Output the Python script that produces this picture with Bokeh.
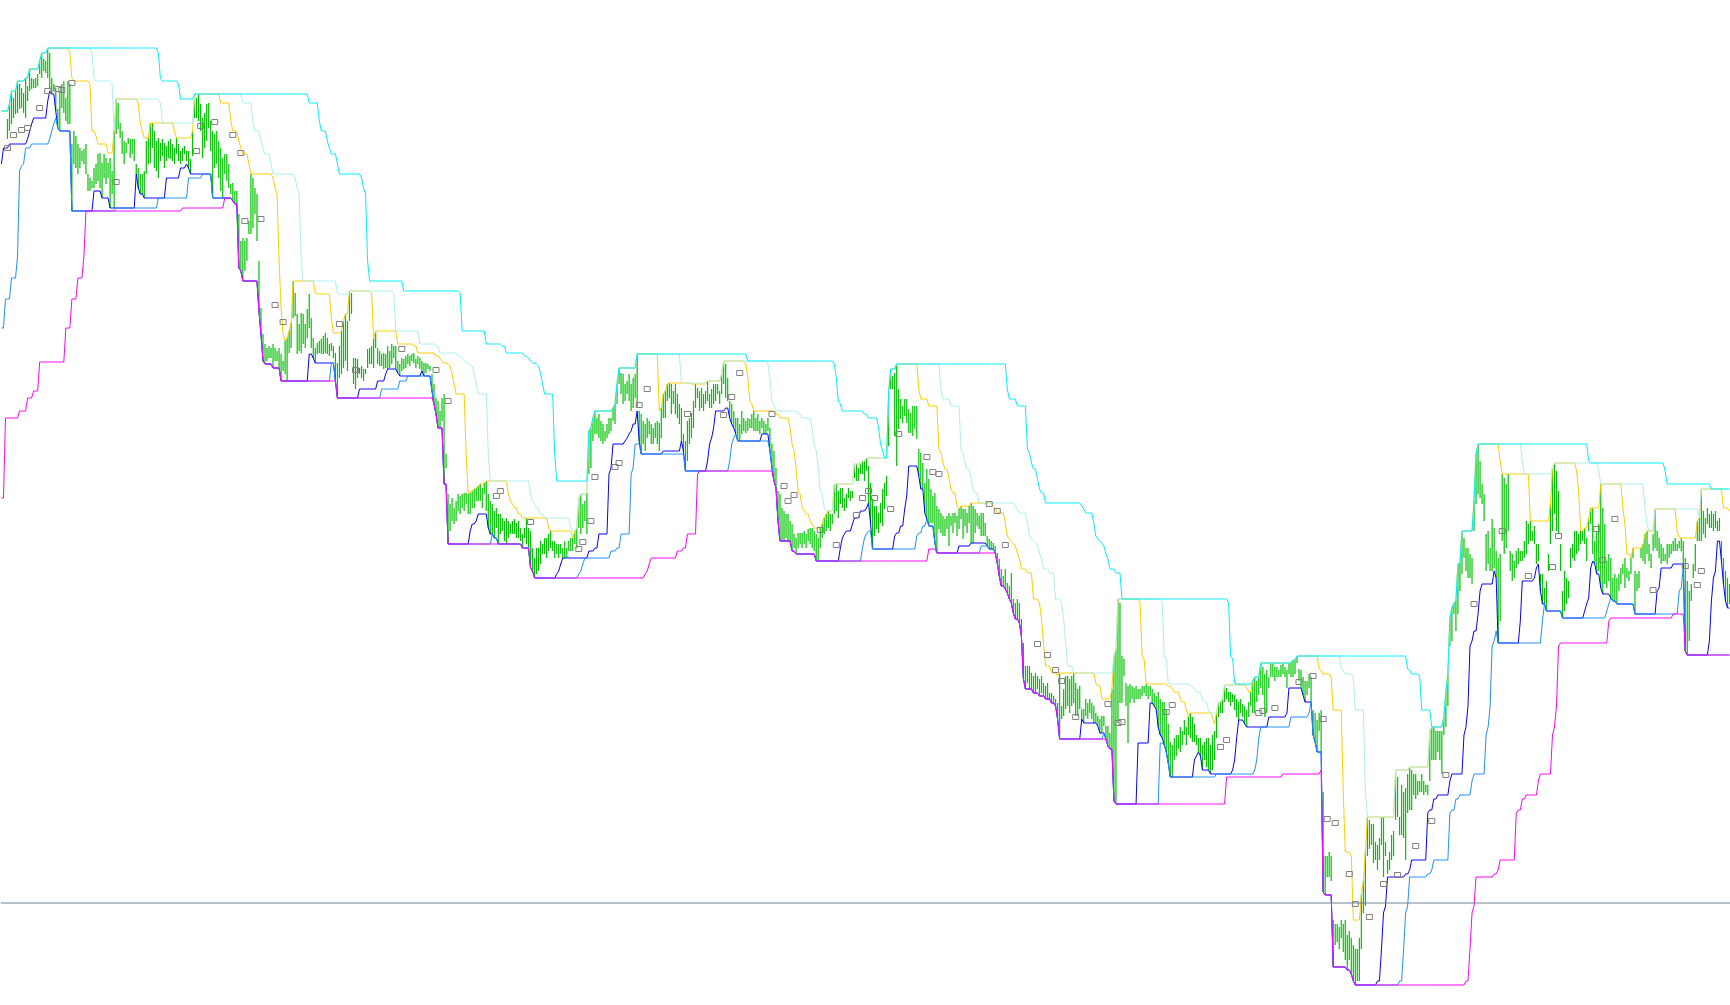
import numpy as np
import pandas as pd
from bokeh.plotting import figure
from bokeh.models import Range1d, Span
from bokeh.embed import file_html
from bokeh.resources import INLINE

# ---------------- data (prices, arbitrary price units) ----------------
high_1 = [882, 897, 910, 903, 910, 920, 917, 913, 908, 923,
          915, 932, 923, 922, 923, 927, 940, 948, 942, 940,
          953, 948, 923, 917, 913, 892, 910, 917, 920, 903,
          920, 917, 857, 870, 865, 857, 853, 850, 852, 857,
          827, 823, 820, 833, 837, 847, 848, 838, 847, 843,
          838, 843, 830, 870, 902, 898, 878, 870, 860, 858,
          863, 862, 862, 862, 837, 833, 827, 827, 830, 860,
          863, 878, 878, 870, 860, 863, 858, 862, 858, 855,
          860, 862, 857, 853, 863, 857, 850, 853, 855, 850,
          850, 842, 870, 907, 903, 907, 897, 883, 888, 897,
          898, 880, 870, 867, 870, 860, 853, 843, 847, 847,
          837, 817, 818, 810, 810, 787, 760, 763, 760, 763,
          780, 827, 823, 813, 807, 740, 693, 667, 657, 653,
          655, 653, 657, 653, 650, 653, 647, 640, 660, 663]
low_1 = [862, 870, 877, 883, 887, 888, 892, 893, 888, 883,
         900, 910, 912, 913, 913, 915, 927, 923, 930, 928,
         923, 912, 907, 910, 890, 873, 870, 893, 888, 880,
         877, 877, 790, 837, 833, 827, 833, 840, 837, 827,
         810, 810, 813, 813, 817, 820, 813, 803, 823, 817,
         823, 793, 807, 793, 867, 872, 863, 847, 837, 848,
         857, 843, 847, 840, 827, 813, 807, 807, 803, 827,
         837, 838, 853, 833, 830, 823, 840, 845, 833, 840,
         843, 842, 840, 837, 847, 840, 837, 840, 847, 840,
         833, 827, 845, 883, 883, 880, 870, 843, 853, 860,
         873, 850, 803, 833, 837, 823, 810, 803, 827, 820,
         813, 807, 800, 797, 797, 733, 730, 720, 730, 740,
         767, 767, 773, 787, 760, 690, 667, 640, 637, 640,
         643, 643, 633, 640, 640, 633, 620, 630, 627, 620]

high_2 = [670, 678, 720, 708, 687, 677, 688, 687, 677, 692,
          707, 683, 663, 653, 658, 660, 662, 665, 668, 663,
          657, 658, 655, 648, 638, 655, 670, 680, 687, 680,
          710, 708, 643, 643, 642, 633, 635, 632, 632, 652,
          653, 655, 662, 670, 653, 650, 647, 648, 647, 655,
          650, 657, 655, 655, 640, 637, 643, 642, 645, 647,
          645, 647, 648, 642, 645, 643, 640, 638, 638, 637,
          635, 627, 617, 603, 600, 590, 603, 607, 547, 507,
          497, 503, 493, 500, 507, 505, 507, 508, 508, 507,
          508, 510, 512, 513, 515, 517, 513, 518, 520, 507,
          500, 497, 490, 493, 487, 487, 483, 480, 483, 480,
          477, 480, 482, 478, 480, 473, 467, 473, 483, 473,
          470, 453, 443, 453, 453, 460, 457, 463, 463, 467,
          470, 460, 460, 457, 457, 457, 453, 460, 453, 460,
          463, 463, 470, 473]
low_2 = [648, 653, 683, 685, 647, 650, 648, 657, 653, 663,
         673, 653, 643, 638, 647, 648, 647, 647, 648, 647,
         645, 650, 643, 620, 603, 623, 627, 633, 640, 630,
         680, 687, 617, 612, 623, 627, 623, 620, 627, 633,
         637, 637, 633, 653, 637, 635, 635, 632, 633, 632,
         633, 637, 643, 632, 628, 625, 630, 632, 633, 637,
         635, 640, 638, 633, 637, 632, 630, 625, 628, 632,
         630, 610, 597, 587, 573, 573, 580, 517, 533, 457,
         470, 480, 477, 480, 490, 487, 493, 490, 497, 487,
         487, 493, 493, 500, 500, 500, 493, 507, 490, 473,
         467, 467, 463, 473, 457, 467, 470, 460, 457, 463,
         467, 467, 467, 463, 463, 460, 453, 463, 457, 453,
         433, 430, 423, 427, 430, 437, 447, 447, 443, 450,
         453, 450, 443, 447, 443, 447, 443, 443, 443, 450,
         450, 450, 457, 453]

high_3 = [503, 507, 497, 500, 508, 570, 573, 583, 590, 583,
          587, 580, 577, 570, 577, 583, 583, 593, 597, 617,
          633, 628, 627, 617, 620, 627, 617, 623, 627, 647,
          590, 587, 580, 577, 583, 580, 577, 573, 578, 580,
          578, 593, 607, 610, 617, 618, 617, 610, 617, 607,
          597, 593, 567, 560, 580, 583, 588, 600, 617, 613,
          610, 613, 607, 610, 620, 607, 612, 617, 617, 617,
          610, 627, 640, 637, 623, 600, 597, 590, 583, 583,
          577, 590, 583, 580, 583, 582, 587, 590, 583, 587,
          580, 583, 580, 577, 583, 573, 557, 550, 533, 510,
          507, 493, 490, 487, 487, 480, 477, 467, 463, 468,
          468, 468, 470, 467, 472, 473, 473, 470, 467, 463,
          473, 477, 483, 487, 490, 487, 487, 517, 517, 510,
          513, 513, 503, 507, 513, 510, 510, 537, 537, 533,
          537, 540, 540, 543]
low_3 = [473, 467, 473, 480, 467, 527, 533, 560, 567, 567,
         563, 560, 557, 560, 563, 567, 570, 580, 577, 597,
         617, 607, 597, 600, 607, 600, 590, 593, 603, 593,
         560, 547, 557, 550, 563, 567, 557, 557, 563, 557,
         550, 563, 583, 583, 600, 603, 587, 597, 587, 583,
         577, 560, 550, 530, 540, 557, 563, 573, 593, 603,
         590, 593, 590, 597, 600, 593, 593, 597, 600, 607,
         597, 607, 617, 603, 600, 583, 577, 573, 567, 560,
         560, 567, 570, 568, 570, 573, 573, 570, 570, 570,
         567, 573, 567, 567, 570, 550, 533, 520, 513, 480,
         460, 460, 460, 463, 460, 460, 450, 453, 447, 453,
         457, 453, 457, 453, 460, 457, 453, 450, 440, 440,
         453, 463, 467, 470, 473, 470, 477, 487, 490, 483,
         497, 493, 490, 493, 503, 500, 503, 523, 520, 520,
         527, 527, 520, 530]

high_4 = [535, 518, 502, 495, 495, 488, 498, 512, 518, 525,
          608, 632, 625, 628, 637, 612, 602, 595, 602, 602,
          592, 588, 595, 595, 595, 552, 548, 538, 518, 532,
          522, 512, 505, 508, 495, 492, 488, 485, 482, 485,
          488, 485, 488, 488, 485, 492, 495, 492, 492, 488,
          495, 498, 495, 492, 488, 485, 488, 488, 478, 465,
          462, 460, 458, 455, 448, 442, 432, 425, 432, 418,
          415, 428, 402, 398, 402, 398, 382, 358, 335, 335,
          335, 328, 325, 328, 325, 322, 325, 318, 315, 318,
          308, 308, 305, 302, 298, 328, 295, 312, 325, 325,
          322, 325, 328, 318, 312, 315, 292, 292, 302, 298,
          302, 298, 295, 288, 285, 282, 285, 285, 275, 275,
          268, 312, 345, 352, 402, 398, 345, 342, 318, 315,
          317, 315, 313, 315, 312, 312, 315, 315, 317, 315,
          315, 312, 308, 305]
low_4 = [498, 478, 452, 465, 472, 468, 478, 475, 492, 505,
         555, 612, 612, 565, 535, 572, 582, 578, 585, 578,
         568, 568, 565, 572, 562, 525, 512, 512, 488, 482,
         475, 478, 478, 458, 448, 472, 468, 465, 465, 472,
         455, 475, 468, 478, 465, 472, 482, 462, 475, 468,
         478, 458, 458, 468, 475, 472, 465, 465, 465, 455,
         452, 452, 452, 448, 438, 425, 415, 415, 412, 408,
         402, 398, 388, 382, 382, 378, 365, 322, 312, 318,
         312, 312, 308, 308, 312, 305, 308, 305, 302, 302,
         302, 298, 298, 295, 282, 262, 282, 285, 292, 295,
         288, 295, 298, 285, 285, 292, 282, 278, 285, 282,
         288, 282, 278, 278, 275, 268, 268, 275, 262, 255,
         252, 252, 200, 197, 278, 298, 298, 325, 295, 258,
         298, 302, 298, 302, 302, 302, 305, 308, 305, 302,
         305, 298, 295, 292]

high_5 = [309, 302, 299, 299, 291, 277, 259, 256, 263, 266,
          266, 274, 270, 281, 274, 284, 288, 284, 277, 266,
          263, 263, 256, 259, 263, 263, 256, 266, 270, 288,
          299, 299, 302, 316, 313, 309, 309, 307, 306, 302,
          299, 302, 297, 295, 291, 299, 309, 320, 324, 320,
          324, 338, 334, 327, 331, 324, 338, 338, 334, 334,
          331, 336, 338, 334, 331, 338, 338, 341, 341, 345,
          332, 331, 324, 320, 320, 327, 324, 291, 288, 281,
          288, 291, 209, 145, 145, 149, 145, 81, 77, 77,
          74, 81, 77, 81, 66, 70, 63, 56, 52, 52,
          63, 106, 120, 149, 184, 181, 177, 177, 159, 156,
          163, 184, 184, 159, 141, 149, 166, 170, 231, 224,
          184, 216, 209, 213, 227, 234, 231, 227, 227, 220,
          220, 227, 220, 216, 216, 270, 274, 274, 270, 270,
          270, 270, 284, 309, 327]
low_5 = [274, 266, 263, 256, 249, 238, 224, 224, 241, 245,
         252, 249, 256, 266, 256, 266, 263, 259, 259, 256,
         249, 245, 231, 241, 234, 231, 227, 231, 241, 263,
         284, 288, 288, 299, 302, 299, 295, 299, 291, 284,
         281, 288, 284, 277, 274, 284, 295, 288, 288, 299,
         306, 313, 306, 284, 288, 313, 324, 324, 320, 324,
         324, 324, 327, 324, 313, 327, 324, 324, 327, 338,
         320, 313, 306, 299, 306, 313, 299, 266, 259, 249,
         270, 249, 109, 106, 124, 124, 120, 34, 56, 59,
         52, 63, 49, 41, 31, 41, 27, 20, 16, 20,
         20, 52, 88, 95, 145, 152, 156, 138, 141, 131,
         141, 156, 124, 145, 127, 131, 141, 145, 181, 184,
         166, 166, 163, 141, 188, 191, 191, 206, 202, 206,
         209, 209, 206, 209, 206, 220, 241, 241, 241, 249,
         241, 227, 266, 274, 295]

high_6 = [383, 393, 398, 400, 437, 438, 470, 463, 453, 453,
          447, 443, 500, 547, 557, 540, 517, 507, 467, 470,
          453, 482, 473, 450, 443, 447, 527, 523, 517, 527,
          450, 447, 440, 450, 453, 450, 450, 460, 480, 477,
          480, 470, 475, 457, 457, 427, 427, 413, 420, 447,
          497, 533, 538, 530, 510, 457, 410, 430, 423, 420,
          453, 457, 470, 470, 467, 470, 470, 473, 463, 483,
          493, 493, 460, 470, 477, 517, 493, 477, 440, 447,
          443, 423, 427, 423, 427, 433, 437, 443, 433, 430,
          443, 453, 430, 427, 430, 453, 457, 467, 470, 457,
          447, 467, 492, 470, 463, 457, 453, 447, 457, 457,
          457, 460, 463, 457, 460, 463, 460, 443, 420, 410,
          417, 437, 457, 480, 483, 512, 490, 483, 493, 487,
          490, 487, 490, 480, 483, 460, 443, 430, 423, 417]
low_6 = [355, 360, 387, 370, 387, 410, 427, 443, 430, 423,
         423, 417, 470, 497, 507, 503, 497, 480, 430, 437,
         430, 430, 433, 423, 358, 380, 460, 447, 453, 470,
         430, 420, 423, 433, 437, 440, 440, 443, 447, 457,
         460, 460, 457, 437, 440, 410, 397, 397, 390, 430,
         457, 470, 487, 470, 467, 430, 383, 390, 397, 403,
         433, 443, 440, 447, 450, 457, 460, 457, 440, 470,
         477, 447, 437, 427, 430, 413, 407, 417, 413, 420,
         403, 400, 400, 397, 410, 417, 427, 413, 423, 420,
         427, 443, 387, 410, 413, 443, 440, 437, 447, 440,
         433, 450, 453, 450, 443, 437, 440, 440, 437, 443,
         447, 450, 450, 450, 453, 450, 437, 350, 346, 360,
         400, 423, 430, 460, 460, 460, 467, 463, 477, 473,
         473, 470, 473, 470, 470, 440, 417, 400, 393, 397]

# bars before the first plotted one (read from the left ends of the channel lines)
pre_low = [503, 503, 583,
           583, 583, 583, 583, 583, 583, 590, 590, 590, 590,
           603, 603, 603, 610, 610, 610, 639, 639, 639, 639,
           639, 639, 639, 639, 639, 639, 639, 639, 639, 673,
           673, 673, 702, 702, 702, 723, 723, 723, 745, 830,
           835, 837, 853, 853, 853, 857, 857, 857, 857, 857,
           857, 857, 857, 857]
pre_high = [890, 890, 890]   # the last three of them

# grey square markers: bar number and price
square_bar = [0, 3, 7, 10, 16, 20, 25, 27, 32, 54, 94, 96, 103, 112, 116, 118, 126, 133, 137,
              165, 173, 196, 213, 219, 243, 245, 260, 284,
              286, 290, 292, 302, 304, 314, 318, 338, 356, 360, 364, 380, 386, 388, 391, 404, 412,
              422, 425, 428, 431, 439, 443, 457, 460, 463, 488, 492, 496, 512, 517, 521, 524, 531,
              547, 552, 554, 576, 579, 603, 606, 622, 624, 630, 642, 649, 654, 656, 660, 667, 670,
              677, 684, 691, 700, 708, 715, 729, 743, 756, 768, 771, 790, 793, 799, 818, 834, 840, 842]
square_val = [853, 866, 871, 873, 893, 910, 912, 911, 918, 819, 850, 875, 879, 866, 848, 780, 782, 696, 679,
              677, 631, 652, 631, 600, 505, 510, 479, 452,
              459, 480, 524, 534, 538, 596, 612, 587, 586, 604, 628, 587, 515, 500, 506, 471, 456,
              486, 503, 510, 503, 492, 567, 544, 529, 527, 497, 490, 456, 357, 346, 331, 320, 284,
              297, 278, 279, 289, 296, 254, 261, 288, 290, 293, 319, 325, 282, 182, 178, 127, 97,
              84, 117, 126, 155, 180, 226, 397, 470, 425, 434, 465, 472, 441, 482, 411, 435, 416, 430]

level = 98  # horizontal price level

FAST, MID, SLOW = 11, 22, 55   # channel periods in bars

# ---------------- computation ----------------
high = high_1 + high_2 + high_3 + high_4 + high_5 + high_6
low = low_1 + low_2 + low_3 + low_4 + low_5 + low_6
n = len(high)
bars = np.arange(n)

k = len(pre_high)
hs = pd.Series(pre_high + high, dtype=float)
ls = pd.Series(pre_low + low, dtype=float)
npre = len(pre_low)
line_x = np.arange(-k, n)

def upper(w):
    return hs.rolling(w, min_periods=1).max().to_numpy()

def lower(w):
    return ls.rolling(w, min_periods=1).min().to_numpy()[npre - k:]

# ---------------- figure ----------------
W, H = 1730, 1005
SP = 2.0117  # pixels per bar
X0 = 7.0     # pixel position of the first bar
p = figure(width=W, height=H, output_backend="svg", toolbar_location=None,
           x_range=Range1d((0 - X0) / SP, (W - X0) / SP), y_range=Range1d(-4.5, 1000.5),
           x_axis_location=None, y_axis_location=None, min_border=0,
           background_fill_color="white", border_fill_color="white")
p.outline_line_color = None
p.grid.visible = False

p.segment(x0=bars, y0=low, x1=bars, y1=high, line_color="#00c400", line_width=1.2)

p.line(line_x, lower(FAST), line_color="#0000ff", line_width=1)
p.line(line_x, lower(MID), line_color="#1e90ff", line_width=1)
p.line(line_x, lower(SLOW), line_color="#ff00ff", line_width=1)
p.line(line_x, upper(FAST), line_color="#ffcc00", line_width=1)
p.line(line_x, upper(MID), line_color="#afeeee", line_width=1)
p.line(line_x, upper(SLOW), line_color="#00eeff", line_width=1)

p.rect(x=square_bar, y=square_val, width=6, height=5, width_units="screen", height_units="screen",
       fill_color=None, line_color="#808080", line_width=1)

p.add_layout(Span(location=level, dimension="width", line_color="#708090", line_width=1))

open("out.html", "w").write(file_html(p, INLINE))
